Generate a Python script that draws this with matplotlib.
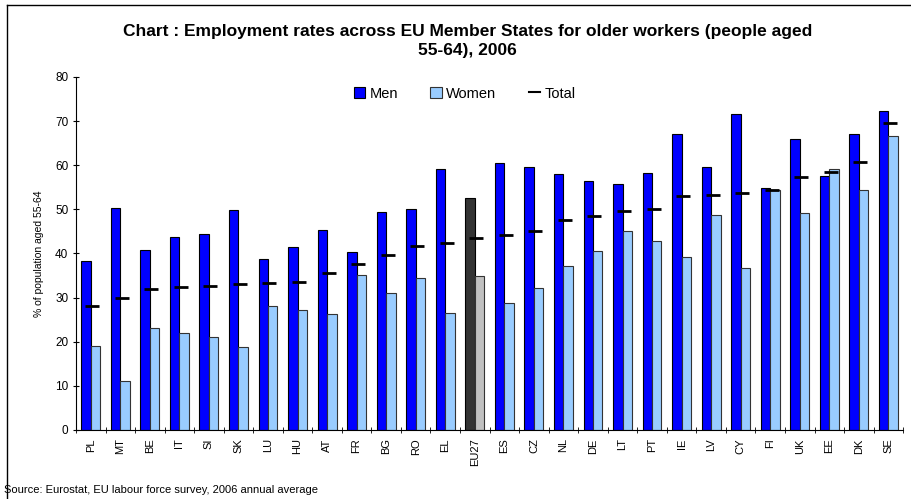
import numpy as np
import matplotlib.pyplot as plt
from matplotlib.lines import Line2D
from matplotlib.patches import Patch
from matplotlib.ticker import MultipleLocator

plt.rcParams["font.family"] = ["Liberation Sans", "DejaVu Sans"]

countries = ["PL", "MT", "BE", "IT", "SI", "SK", "LU", "HU", "AT", "FR",
             "BG", "RO", "EL", "EU27", "ES", "CZ", "NL", "DE", "LT", "PT",
             "IE", "LV", "CY", "FI", "UK", "EE", "DK", "SE"]
men = [38.4, 50.4, 40.9, 43.7, 44.5, 49.8, 38.7, 41.4, 45.3, 40.3,
       49.5, 50.0, 59.2, 52.6, 60.4, 59.5, 58.0, 56.4, 55.7, 58.2,
       67.0, 59.5, 71.6, 54.8, 66.0, 57.5, 67.1, 72.3]
women = [19.0, 11.2, 23.2, 21.9, 21.0, 18.9, 28.0, 27.1, 26.3, 35.2,
         31.1, 34.5, 26.6, 34.8, 28.7, 32.1, 37.2, 40.6, 45.0, 42.8,
         39.1, 48.7, 36.6, 54.3, 49.1, 59.2, 54.3, 66.7]
total = [28.1, 30.0, 32.0, 32.5, 32.6, 33.1, 33.2, 33.6, 35.5, 37.6,
         39.6, 41.7, 42.3, 43.5, 44.1, 45.2, 47.7, 48.4, 49.6, 50.1,
         53.1, 53.3, 53.6, 54.5, 57.4, 58.5, 60.7, 69.6]

MEN_COLOR = "#0000FF"
WOMEN_COLOR = "#99CCFF"
x = np.arange(len(countries))
w = 0.32

fig = plt.figure(figsize=(9.12, 4.99), dpi=100)
ax = fig.add_axes([0.0833, 0.1383, 0.907, 0.7074])

men_colors = ["#333333" if c == "EU27" else MEN_COLOR for c in countries]
women_colors = ["#C0C0C0" if c == "EU27" else WOMEN_COLOR for c in countries]

ax.bar(x - w / 2, men, width=w, color=men_colors, edgecolor="black",
       linewidth=0.8, zorder=2)
ax.bar(x + w / 2, women, width=w, color=women_colors, edgecolor="#333333",
       linewidth=0.8, zorder=2)
ax.scatter(x + 0.05, total, marker="_", s=110, color="black",
           linewidths=2, zorder=3)

ax.set_xlim(-0.5, len(countries) - 0.5)
ax.set_ylim(0, 80)
ax.yaxis.set_major_locator(MultipleLocator(10))
ax.set_xticks(x)
ax.set_xticklabels(countries, rotation=90, fontsize=8)
ax.set_xticks(np.arange(-0.5, len(countries), 1), minor=True)
ax.tick_params(axis="x", which="major", length=0, pad=6)
ax.tick_params(axis="x", which="minor", length=4, direction="inout")
ax.tick_params(axis="y", labelsize=8.5, length=4, direction="inout")
for s in ["top", "right"]:
    ax.spines[s].set_visible(False)
ax.set_ylabel("% of population aged 55-64", fontsize=7.5, labelpad=8)

handles = [
    Patch(facecolor=MEN_COLOR, edgecolor="black", linewidth=0.8),
    Patch(facecolor=WOMEN_COLOR, edgecolor="#333333", linewidth=0.8),
    Line2D([], [], color="black", linewidth=1.5),
]
ax.legend(handles, ["Men", "Women", "Total"], loc="upper center",
          bbox_to_anchor=(0.47, 1.01), ncol=3, frameon=False, fontsize=10.5,
          handlelength=0.8, handleheight=0.8, handletextpad=0.3,
          columnspacing=2.2)

fig.text(0.513, 0.918, "Chart : Employment rates across EU Member States for older workers (people aged\n55-64), 2006",
         ha="center", va="center", fontsize=12.5, fontweight="bold",
         linespacing=1.4)
fig.text(0.004, 0.018, "Source: Eurostat, EU labour force survey, 2006 annual average",
         ha="left", va="center", fontsize=8)

# frame on the left and top edges
fig.add_artist(Line2D([0.008, 0.008], [0, 0.99], color="black",
                      linewidth=1, transform=fig.transFigure))
fig.add_artist(Line2D([0.008, 1], [0.99, 0.99], color="black",
                      linewidth=1, transform=fig.transFigure))

fig.savefig("out.png", dpi=100)
